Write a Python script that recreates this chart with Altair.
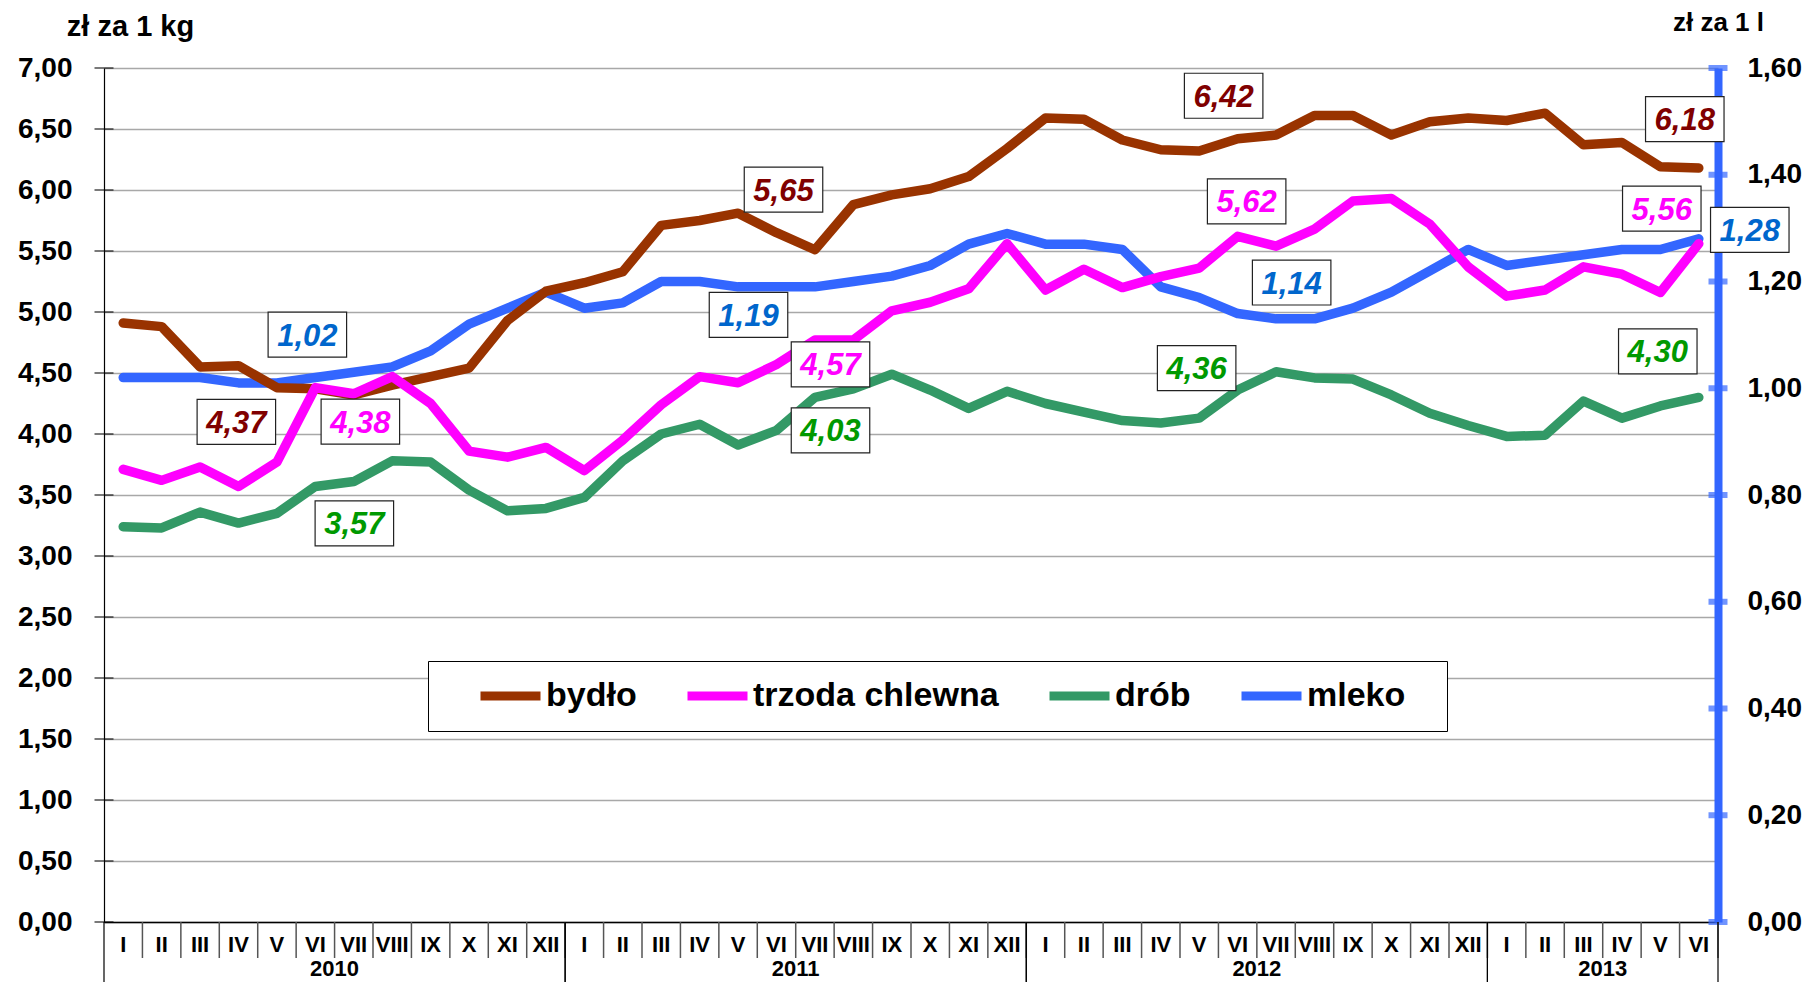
import altair as alt
import pandas as pd

# ---------------- data ----------------
months = ["I", "II", "III", "IV", "V", "VI", "VII", "VIII", "IX", "X", "XI", "XII"]
month_seq = months * 3 + months[:6]
year_seq = [2010] * 12 + [2011] * 12 + [2012] * 12 + [2013] * 6

bydlo = [4.91, 4.88, 4.55, 4.56, 4.38, 4.37, 4.32, 4.40, 4.47, 4.54, 4.93, 5.17,
         5.24, 5.33, 5.71, 5.75, 5.81, 5.65, 5.51, 5.88, 5.96, 6.01, 6.11, 6.34,
         6.59, 6.58, 6.41, 6.33, 6.32, 6.42, 6.45, 6.61, 6.61, 6.45, 6.56, 6.59,
         6.57, 6.63, 6.37, 6.39, 6.19, 6.18]
trzoda = [3.71, 3.62, 3.73, 3.57, 3.77, 4.38, 4.33, 4.47, 4.25, 3.86, 3.81, 3.89,
          3.70, 3.95, 4.24, 4.47, 4.42, 4.57, 4.77, 4.77, 5.01, 5.08, 5.19, 5.56,
          5.18, 5.35, 5.20, 5.29, 5.36, 5.62, 5.54, 5.68, 5.91, 5.93, 5.72, 5.37,
          5.13, 5.18, 5.37, 5.31, 5.16, 5.56]
drob = [3.24, 3.23, 3.36, 3.27, 3.35, 3.57, 3.61, 3.78, 3.77, 3.54, 3.37, 3.39,
        3.48, 3.78, 4.00, 4.08, 3.91, 4.03, 4.30, 4.37, 4.49, 4.36, 4.21, 4.35,
        4.25, 4.18, 4.11, 4.09, 4.13, 4.36, 4.51, 4.46, 4.45, 4.32, 4.17, 4.07,
        3.98, 3.99, 4.27, 4.13, 4.23, 4.30]
mleko = [1.02, 1.02, 1.02, 1.01, 1.01, 1.02, 1.03, 1.04, 1.07, 1.12, 1.15, 1.18,
         1.15, 1.16, 1.20, 1.20, 1.19, 1.19, 1.19, 1.20, 1.21, 1.23, 1.27, 1.29,
         1.27, 1.27, 1.26, 1.19, 1.17, 1.14, 1.13, 1.13, 1.15, 1.18, 1.22, 1.26,
         1.23, 1.24, 1.25, 1.26, 1.26, 1.28]

series_names = ["bydło", "trzoda chlewna", "drób", "mleko"]
left_ticks = [0.0, 0.5, 1.0, 1.5, 2.0, 2.5, 3.0, 3.5, 4.0, 4.5, 5.0, 5.5, 6.0, 6.5, 7.0]
right_ticks = [0.0, 0.2, 0.4, 0.6, 0.8, 1.0, 1.2, 1.4, 1.6]

# ---------------- styles ----------------
series_colors = ["#993300", "#ff00ff", "#339966", "#3366ff"]
label_colors = {"bydło": "#800000", "trzoda chlewna": "#ff00ff", "drób": "#009900", "mleko": "#0066cc"}
BLUE = "#3366ff"
F = "Liberation Sans"
W, H = 1614, 854
# pixel offsets of the value boxes (series, year) -> (dx, dy)
label_offsets = {
    ("bydło", 2010): (-79, 33), ("bydło", 2011): (7, -43), ("bydło", 2012): (-14, -43), ("bydło", 2013): (-14, -49),
    ("trzoda chlewna", 2010): (45, 34), ("trzoda chlewna", 2011): (54, 0), ("trzoda chlewna", 2012): (9, -35), ("trzoda chlewna", 2013): (-37, -35),
    ("drób", 2010): (39, 37), ("drób", 2011): (54, 0), ("drób", 2012): (-41, -22), ("drób", 2013): (-41, -46),
    ("mleko", 2010): (-8, -43), ("mleko", 2011): (-28, 28), ("mleko", 2012): (54, -31), ("mleko", 2013): (51, -9),
}
BOX = "M-1,-0.573H1V0.573H-1Z"

rows = []
for name, vals in zip(series_names, [bydlo, trzoda, drob, mleko]):
    for i, v in enumerate(vals):
        rows.append({"t": i, "month": month_seq[i], "year": year_seq[i], "series": name, "value": v})
df = pd.DataFrame(rows)
cal = pd.DataFrame({"t": list(range(len(month_seq))), "month": month_seq, "year": year_seq})
lt = pd.DataFrame({"v": left_ticks})
rt = pd.DataFrame({"v": right_ticks})

fmt = "replace(format(datum.value, '.2f'), '.', ',')"

xs = alt.Scale(domain=[-0.5, len(month_seq) - 0.5], nice=False, zero=False)
x_axis = alt.Axis(labels=False, ticks=False, grid=False, domain=True, domainColor="black",
                  domainWidth=1.5, title=None)
ys_left = alt.Scale(domain=[0, 7], nice=False, zero=True)
ys_right = alt.Scale(domain=[0, 1.6], nice=False, zero=True)

left_axis = alt.Axis(orient="left", values=left_ticks, labelExpr=fmt, labelFont=F, labelFontSize=28,
                     labelFontWeight="bold", labelColor="black", labelPadding=32, ticks=False, tickSize=0,
                     domain=True, domainColor="black", domainWidth=1.2, grid=True, gridColor="#a8a8a8",
                     gridWidth=1.5, title="zł za 1 kg", titleAngle=0, titleX=26, titleY=-33,
                     titleAlign="center", titleBaseline="alphabetic", titleFont=F, titleFontSize=29,
                     titleFontWeight="bold", titleColor="black")
right_axis = alt.Axis(orient="right", values=right_ticks, labelExpr=fmt, labelFont=F, labelFontSize=28,
                      labelFontWeight="bold", labelColor="black", labelPadding=29, ticks=False, tickSize=0,
                      domain=True, domainColor=BLUE, domainWidth=8, grid=False, zindex=0,
                      title="zł za 1 l", titleAngle=0, titleX=0, titleY=-38, titleAlign="center",
                      titleBaseline="alphabetic", titleFont=F, titleFontSize=26, titleFontWeight="bold",
                      titleColor="black")

legend = alt.Legend(title="\u00a0", titleOrient="right", titlePadding=24, titleFontSize=34,
                    titleFont=F, titleColor="white",
                    orient="none", legendX=324, legendY=593, direction="horizontal",
                    symbolType="stroke", symbolSize=3600, symbolStrokeWidth=9, clipHeight=34,
                    labelFont=F, labelFontSize=34, labelFontWeight="bold", labelColor="black",
                    labelOffset=1, labelLimit=0, columnPadding=16, padding=18, symbolOffset=30,
                    strokeColor="black", fillColor="white", cornerRadius=0)
color_enc = alt.Color("series:N", scale=alt.Scale(domain=series_names, range=series_colors), legend=legend)


def xenc(field="t"):
    return alt.X(f"{field}:Q", scale=xs, axis=x_axis)


def series_line(name, yscale, axis):
    return alt.Chart(df).transform_filter(alt.datum.series == name).mark_line(
        strokeWidth=9.5, strokeCap="round", strokeJoin="round"
    ).encode(x=xenc(), y=alt.Y("value:Q", scale=yscale, axis=axis), color=color_enc)


def value_label(name, year, yscale, axis):
    dx, dy = label_offsets[(name, year)]
    base = alt.Chart(df).transform_filter(
        (alt.datum.series == name) & (alt.datum.year == year) & (alt.datum.month == "VI")
    ).transform_calculate(lbl=fmt)
    enc = dict(x=xenc(), y=alt.Y("value:Q", scale=yscale, axis=axis))
    box = base.mark_point(shape=BOX, size=6162, filled=True, fill="white", stroke="#222222",
                          strokeWidth=1.2, opacity=1, xOffset=dx, yOffset=dy).encode(**enc)
    txt = base.mark_text(font=F, fontSize=31, fontStyle="italic", fontWeight="bold",
                         color=label_colors[name], align="center", baseline="middle",
                         xOffset=dx, yOffset=dy + 2).encode(text="lbl:N", **enc)
    return [box, txt]


# ---------- group 1: milk line on the right axis ----------
milk_line = series_line("mleko", ys_right, right_axis)
right_caps = alt.Chart(rt).mark_tick(color=BLUE, thickness=6, size=19, orient="horizontal").encode(
    x=alt.value(W), y=alt.Y("v:Q", scale=ys_right, axis=right_axis))
group_milk = alt.layer(milk_line, right_caps)

# ---------- group 2: left axis series, x-axis table ----------
left_caps = alt.Chart(lt).mark_tick(color="black", thickness=1.5, size=19, orient="horizontal").encode(
    x=alt.value(0), y=alt.Y("v:Q", scale=ys_left, axis=left_axis))

month_sep = alt.Chart(cal).transform_calculate(b="datum.t + 0.5").mark_rule(
    color="#555555", strokeWidth=1.5).encode(x=xenc("b"), y=alt.value(H), y2=alt.value(H + 36))
month_txt = alt.Chart(cal).mark_text(font=F, fontSize=22, fontWeight="bold", color="black",
                                     align="center", baseline="alphabetic").encode(
    x=xenc(), y=alt.value(H + 30), text="month:N")
yrs = alt.Chart(cal).transform_aggregate(
    tmin="min(t)", tmax="max(t)", groupby=["year"]
).transform_calculate(mid="(datum.tmin + datum.tmax) / 2", b0="datum.tmin - 0.5", b1="datum.tmax + 0.5")
year_r0 = yrs.mark_rule(color="black", strokeWidth=1.2).encode(x=xenc("b0"), y=alt.value(H), y2=alt.value(H + 90))
year_r1 = yrs.mark_rule(color="black", strokeWidth=1.2).encode(x=xenc("b1"), y=alt.value(H), y2=alt.value(H + 90))
year_txt = yrs.mark_text(font=F, fontSize=22, fontWeight="bold", color="black", align="center",
                         baseline="alphabetic").encode(x=xenc("mid"), y=alt.value(H + 54), text="year:N")

left_layers = [left_caps, month_sep, year_r0, year_r1, month_txt, year_txt,
               series_line("bydło", ys_left, left_axis),
               series_line("drób", ys_left, left_axis),
               series_line("trzoda chlewna", ys_left, left_axis)]
for nm in ["bydło", "trzoda chlewna", "drób"]:
    for yr in [2010, 2011, 2012, 2013]:
        left_layers += value_label(nm, yr, ys_left, left_axis)
group_left = alt.layer(*left_layers)

# ---------- group 3: milk value boxes ----------
milk_lbls = []
for yr in [2010, 2011, 2012, 2013]:
    milk_lbls += value_label("mleko", yr, ys_right, None)
group_milk_lbl = alt.layer(*milk_lbls)

chart = alt.layer(group_milk, group_left, group_milk_lbl).resolve_scale(y="independent").properties(
    width=W, height=H,
    autosize=alt.AutoSizeParams(type="none"),
    padding={"left": 96, "top": 60, "right": 86, "bottom": 60},
    background="white",
).configure_view(stroke=None)

chart.save("out.html", embed_options={"renderer": "svg", "actions": False})
